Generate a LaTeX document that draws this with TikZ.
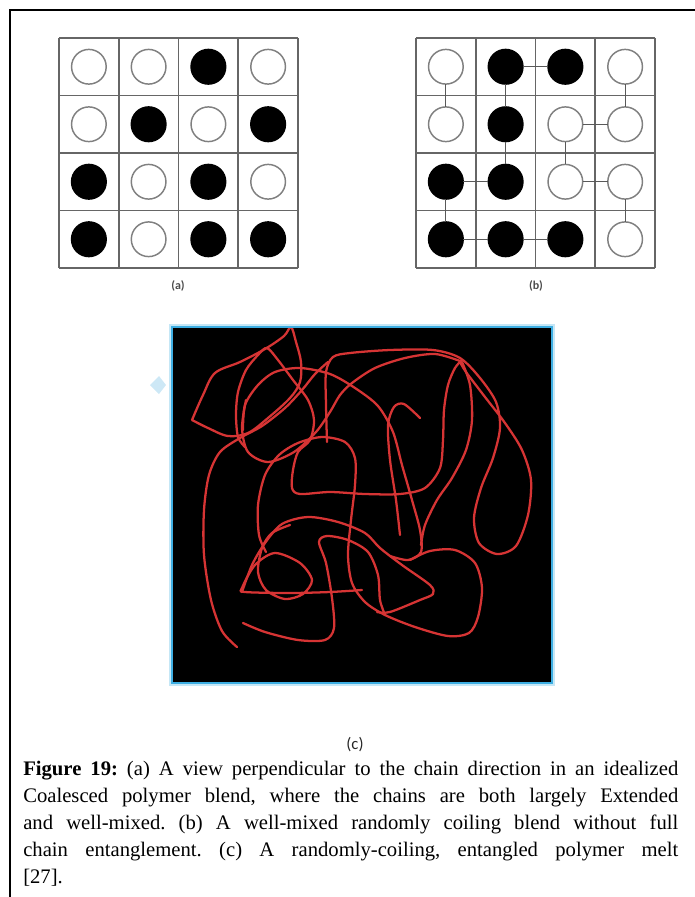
\documentclass[tikz,border=0pt]{standalone}
\usepackage{fontspec}
\setmainfont{Liberation Serif}
\newfontfamily\labelfont{Carlito}
\usepackage{tikz}
\definecolor{coilred}{RGB}{214,52,52}
\definecolor{rimblue}{RGB}{62,174,226}
\definecolor{hazeblue}{RGB}{205,232,246}
\hbadness=10000
\frenchspacing

\begin{document}
\begin{tikzpicture}[x=0.75pt,y=-0.75pt,
	cellline/.style={draw=black!60,line width=1.2pt},
	hollow/.style={circle,draw=black!50,line width=1.1pt,fill=white,
		minimum size=26pt,inner sep=0pt,outer sep=0pt},
	full/.style={hollow,draw=black,fill=black},
	bond/.style={draw=black!65,line width=0.9pt},
	sublabel/.style={font=\labelfont\bfseries\fontsize{9}{10}\selectfont,text=black!70},
	coil/.style={draw=coilred,line width=1.7pt,line cap=round,line join=round}]
\useasboundingbox (0,0) rectangle (695,897);
%%%  page frame (top and left rule only)
\draw[line width=1.1pt] (10,897) -- (10,10) -- (695,10);

%%%%%%%%% lattice (a) %%%%%%%%
\foreach \i in {0,...,4}{%
	\draw[cellline] ({59+59.75*\i},38) -- ({59+59.75*\i},268);
	\draw[cellline] (59,{38+57.5*\i}) -- (298,{38+57.5*\i});}
\foreach \r/\c/\kind in {1/1/hollow,1/2/hollow,1/3/full,1/4/hollow,
	2/1/hollow,2/2/full,2/3/hollow,2/4/full,
	3/1/full,3/2/hollow,3/3/full,3/4/hollow,
	4/1/full,4/2/hollow,4/3/full,4/4/full}{%
	\node[\kind] (a;\r;\c) at ({59+59.75*(\c-0.5)},{38+57.5*(\r-0.5)}) {};}
\node[sublabel] (lab;a) at (178,286) {(a)};

%%%%%%%%% lattice (b) with bonds %%%%%%%%
\foreach \i in {0,...,4}{%
	\draw[cellline] ({416+59.75*\i},38) -- ({416+59.75*\i},268);
	\draw[cellline] (416,{38+57.5*\i}) -- (655,{38+57.5*\i});}
\foreach \r/\c/\kind in {1/1/hollow,1/2/full,1/3/full,1/4/hollow,
	2/1/hollow,2/2/full,2/3/hollow,2/4/hollow,
	3/1/full,3/2/full,3/3/hollow,3/4/hollow,
	4/1/full,4/2/full,4/3/full,4/4/hollow}{%
	\node[\kind] (b;\r;\c) at ({416+59.75*(\c-0.5)},{38+57.5*(\r-0.5)}) {};}
\foreach \p/\q in {1;1/2;1, 1;2/1;3, 1;2/2;2, 2;2/3;2, 1;4/2;4, 2;3/2;4,
	2;3/3;3, 3;1/3;2, 3;1/4;1, 3;3/3;4, 3;4/4;4, 4;1/4;2, 4;2/4;3}{%
	\draw[bond] (b;\p) -- (b;\q);}
\node[sublabel] (lab;b) at (536,286) {(b)};

%%%%%%%%% melt (c) %%%%%%%%
\fill[hazeblue] (150,385) -- (159,376) -- (166,385) -- (159,394) -- cycle;
\draw[rimblue!30,line width=4.5pt] (172,327) rectangle (552,683);
\fill[black] (172,327) rectangle (552,683);
\begin{scope}
\clip (172,327) rectangle (552,683);
% upper left knot
\draw[coil] plot[smooth,tension=0.55] coordinates {(192,420) (203,395) (215,373)
	(240,362) (265,349) (284,336) (291,327) (296,342) (301,362) (300,382)
	(290,398) (268,418) (248,433) (228,436) (208,428) (192,420)};
\draw[coil] plot[smooth] coordinates {(237,647) (222,631) (211,600) (204,555)
	(204,510) (209,475) (220,452) (240,438) (262,426) (285,408) (302,390)
	(315,374) (328,362)};
\draw[coil] plot[smooth] coordinates {(245,447) (238,437) (236,415) (238,392)
	(246,370) (258,355) (267,348) (278,360) (293,380) (308,400) (314,420)
	(310,440) (298,452) (293,470) (292,488) (300,494) (330,492) (365,494)
	(400,494) (425,488) (440,468) (443,440) (444,410) (448,385) (455,368)
	(462,360)};
\draw[coil] plot[smooth] coordinates {(246,400) (242,428) (248,452) (268,462)
	(294,452) (316,432) (330,412) (340,395) (352,383) (375,368) (405,358)
	(435,354) (460,361)};
\draw[coil] plot[smooth] coordinates {(243,430) (245,405) (258,385) (275,372)
	(300,368) (330,374) (355,388) (378,406) (393,432) (402,465) (412,500)
	(420,530) (421,552) (408,560) (390,556)};
% right hand loop
\draw[coil] plot[smooth] coordinates {(327,442) (326,405) (326,372) (333,357)
	(350,353) (390,350) (433,350) (460,358) (480,378) (496,402) (500,428)
	(493,458) (481,488) (474,518) (479,543) (497,554) (516,546) (528,515)
	(531,480) (522,450) (505,423) (485,397) (466,372) (460,362)};
\draw[coil] plot[smooth] coordinates {(462,362) (470,385) (472,420) (466,450)
	(452,478) (437,500) (425,525) (421,545)};
\draw[coil] plot[smooth] coordinates {(420,418) (404,404) (394,407) (388,425)
	(390,460) (396,500) (400,535)};
% lower loops
\draw[coil] plot[smooth] coordinates {(410,560) (430,551) (455,550) (475,563)
	(482,588) (478,617) (469,633) (448,636) (415,627) (385,615) (365,602)
	(352,583) (348,555) (351,520) (355,485) (355,458) (345,442) (322,437)
	(298,443) (279,455) (265,475) (258,505) (259,535) (266,552)};
\draw[coil] plot[smooth] coordinates {(242,592) (252,565) (265,543) (282,524)
	(308,517) (338,522) (365,533) (380,548) (402,565) (430,585) (433,594)
	(420,600) (390,612) (377,612)};
\draw[coil] plot[smooth] coordinates {(362,590) (330,592) (290,593) (245,592)
	(242,588) (255,565) (275,553) (300,563) (312,580) (303,594) (285,599)
	(266,590) (258,572) (262,548) (272,533) (290,525)};
\draw[coil] plot[smooth] coordinates {(243,623) (265,632) (298,640) (325,640)
	(334,628) (332,598) (326,563) (319,542) (327,536) (348,540) (368,552)
	(378,575) (380,600) (385,615)};
\end{scope}
\draw[rimblue,line width=2.2pt] (172,327) rectangle (552,683);
\node[font=\labelfont\fontsize{12.5}{14}\selectfont,text=black!85] (lab;c) at (355,745) {(c)};

%%%%%%%%% caption %%%%%%%%
\node[anchor=north west,inner sep=0pt,text width=491.25pt,align=justify,
	font=\fontsize{15.5}{20.25}\selectfont] (caption) at (23,761)
	{\textbf{Figure 19:} (a) A view perpendicular to the chain direction in an idealized\linebreak{}
	Coalesced polymer blend, where the chains are both largely Extended\linebreak{}
	and well-mixed. (b) A well-mixed randomly coiling blend without full\linebreak{}
	chain entanglement. (c) A randomly-coiling, entangled polymer melt\linebreak{}
	{[27].}};
\end{tikzpicture}
\end{document}
